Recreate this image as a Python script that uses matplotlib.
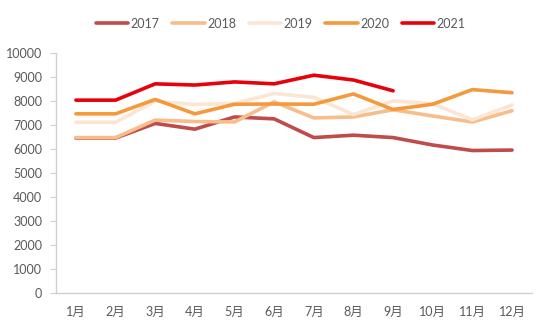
import matplotlib
matplotlib.use("Agg")
import matplotlib.pyplot as plt

months = ["1月", "2月", "3月", "4月", "5月", "6月", "7月", "8月", "9月", "10月", "11月", "12月"]
years = ["2017", "2018", "2019", "2020", "2021"]
v2017 = [6460, 6460, 7070, 6830, 7340, 7260, 6480, 6580, 6480, 6170, 5940, 5960]
v2018 = [6480, 6480, 7210, 7150, 7130, 7970, 7300, 7340, 7640, 7380, 7130, 7600]
v2019 = [7120, 7120, 8000, 7860, 7900, 8320, 8160, 7440, 8010, 7890, 7220, 7840]
v2020 = [7470, 7470, 8070, 7470, 7870, 7880, 7870, 8300, 7650, 7870, 8480, 8350]
v2021 = [8040, 8040, 8720, 8670, 8800, 8720, 9080, 8880, 8430]
colors = ["#BF4B4B", "#F7BE8C", "#FBE5D3", "#F59A3C", "#E8000B"]
yticks = [0, 1000, 2000, 3000, 4000, 5000, 6000, 7000, 8000, 9000, 10000]

fam = ["Lato", "Noto Sans CJK SC", "DejaVu Sans"]
plt.rcParams["font.family"] = fam

fig = plt.figure(figsize=(5.5, 3.3), dpi=100)
ax = fig.add_axes([0.102, 0.112, 0.865, 0.727])

series = [v2017, v2018, v2019, v2020, v2021]
for name, vals, c in zip(years, series, colors):
    ax.plot(months[:len(vals)], vals, color=c, lw=2.6, label=name,
            solid_capstyle="round", solid_joinstyle="round")

ax.set_ylim(0, 10000)
ax.set_xlim(-0.5, 11.5)
ax.set_yticks(yticks)
ax.tick_params(axis="y", length=4, color="#D0D0D0", labelsize=9, labelcolor="#595959", pad=6)
ax.tick_params(axis="x", length=0, labelsize=9, labelcolor="#595959", pad=9)
for s in ["top", "right"]:
    ax.spines[s].set_visible(False)
for s in ["left", "bottom"]:
    ax.spines[s].set_color("#D0D0D0")
    ax.spines[s].set_linewidth(1.0)

fig.legend(loc="center", bbox_to_anchor=(0.51, 0.928), ncol=5, frameon=False,
           fontsize=9, labelcolor="#595959", handlelength=2.6, handletextpad=0.2,
           columnspacing=1.0)

fig.savefig("out.png", dpi=100, facecolor="white")
